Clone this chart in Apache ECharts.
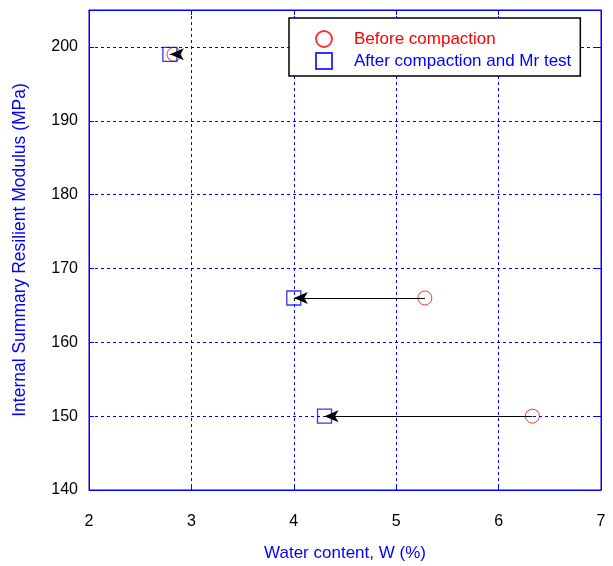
<!DOCTYPE html>
<html><head><meta charset="utf-8">
<script src="https://cdn.jsdelivr.net/npm/echarts@6/dist/echarts.min.js"></script>
<style>html,body{margin:0;padding:0;background:#fff}#c{width:613px;height:566px}</style>
</head><body><div id="c"></div>
<script>
var seriesNames = ['Before compaction', 'After compaction and Mr test'];
var beforeW = [2.83, 5.28, 6.33];
var beforeMr = [199, 166, 150];
var afterW = [2.79, 4.0, 4.30];
var afterMr = [199, 166, 150];
var xTicks = [2, 3, 4, 5, 6, 7];
var yTicks = [140, 150, 160, 170, 180, 190, 200];

var FONT = 'Liberation Sans, Arial, sans-serif';
var BLUE = '#0000ff';
var RED = '#ff0000';

function pairs(xs, ys){ return xs.map(function(x,i){ return [x, ys[i]]; }); }
var arrows = beforeW.map(function(x,i){
  return [{coord:[x, beforeMr[i]]}, {coord:[afterW[i], afterMr[i]]}];
});

var gridLine = {show:true, lineStyle:{color:BLUE, type:[3,3], width:1}};
var chart = echarts.init(document.getElementById('c'), null, {renderer:'canvas'});
chart.setOption({
  animation:false,
  backgroundColor:'#fff',
  grid:{left:89, right:12, top:10, bottom:76, show:true, borderColor:BLUE, borderWidth:1,
        containLabel:false, outerBoundsMode:'none'},
  xAxis:[{
    type:'value', min:xTicks[0], max:xTicks[xTicks.length-1], interval:1,
    name:'Water content, W (%)', nameLocation:'middle', nameGap:55,
    nameTextStyle:{color:BLUE, fontSize:17, fontFamily:FONT},
    axisLine:{show:true, lineStyle:{color:BLUE}},
    axisTick:{show:true, inside:true, length:5, lineStyle:{color:BLUE}},
    axisLabel:{color:'#000', fontSize:16, fontFamily:FONT, margin:24},
    splitLine:gridLine
  },{
    type:'value', position:'top', min:xTicks[0], max:xTicks[xTicks.length-1], interval:1,
    axisLine:{show:true, lineStyle:{color:BLUE}},
    axisTick:{show:true, inside:true, length:5, lineStyle:{color:BLUE}},
    axisLabel:{show:false}, splitLine:{show:false}
  }],
  yAxis:[{
    type:'value', min:yTicks[0], max:205, interval:10,
    name:'Internal Summary Resilient Modulus (MPa)', nameLocation:'middle', nameGap:60,
    nameTextStyle:{color:BLUE, fontSize:17.5, fontFamily:FONT},
    axisLine:{show:true, lineStyle:{color:BLUE}},
    axisTick:{show:true, inside:true, length:5, lineStyle:{color:BLUE}},
    axisLabel:{color:'#000', fontSize:16, fontFamily:FONT, margin:11,
      formatter:function(v){ return yTicks.indexOf(v)>=0 ? String(v) : ''; }},
    splitLine:gridLine
  },{
    type:'value', position:'right', min:yTicks[0], max:205, interval:10,
    axisLine:{show:true, lineStyle:{color:BLUE}},
    axisTick:{show:true, inside:true, length:5, lineStyle:{color:BLUE}},
    axisLabel:{show:false}, splitLine:{show:false}
  }],
  legend:{
    orient:'vertical', left:289, top:18,
    padding:[12, 9, 6, 26], itemGap:4, itemWidth:16, itemHeight:16,
    backgroundColor:'#fff', borderColor:'#000', borderWidth:1.5, borderRadius:0,
    textStyle:{fontSize:17, lineHeight:16, fontFamily:FONT, padding:[0,0,0,17]},
    data:[
      {name:seriesNames[0], textStyle:{color:RED}},
      {name:seriesNames[1], textStyle:{color:BLUE}}
    ]
  },
  series:[
    {
      name:'arrows', type:'line', data:[], silent:true,
      markLine:{
        silent:true, symbol:['none','arrow'], symbolSize:[9,14],
        label:{show:false},
        lineStyle:{color:'#000', width:1, type:'solid'},
        data:arrows
      }
    },
    {
      name:seriesNames[0], type:'scatter', data:pairs(beforeW, beforeMr),
      symbol:'circle', symbolSize:14, z:3,
      itemStyle:{color:'rgba(0,0,0,0)', borderColor:RED, borderWidth:1}
    },
    {
      name:seriesNames[1], type:'scatter', data:pairs(afterW, afterMr),
      symbol:'rect', symbolSize:14, z:3,
      itemStyle:{color:'rgba(0,0,0,0)', borderColor:BLUE, borderWidth:1.3}
    }
  ]
});
</script></body></html>
